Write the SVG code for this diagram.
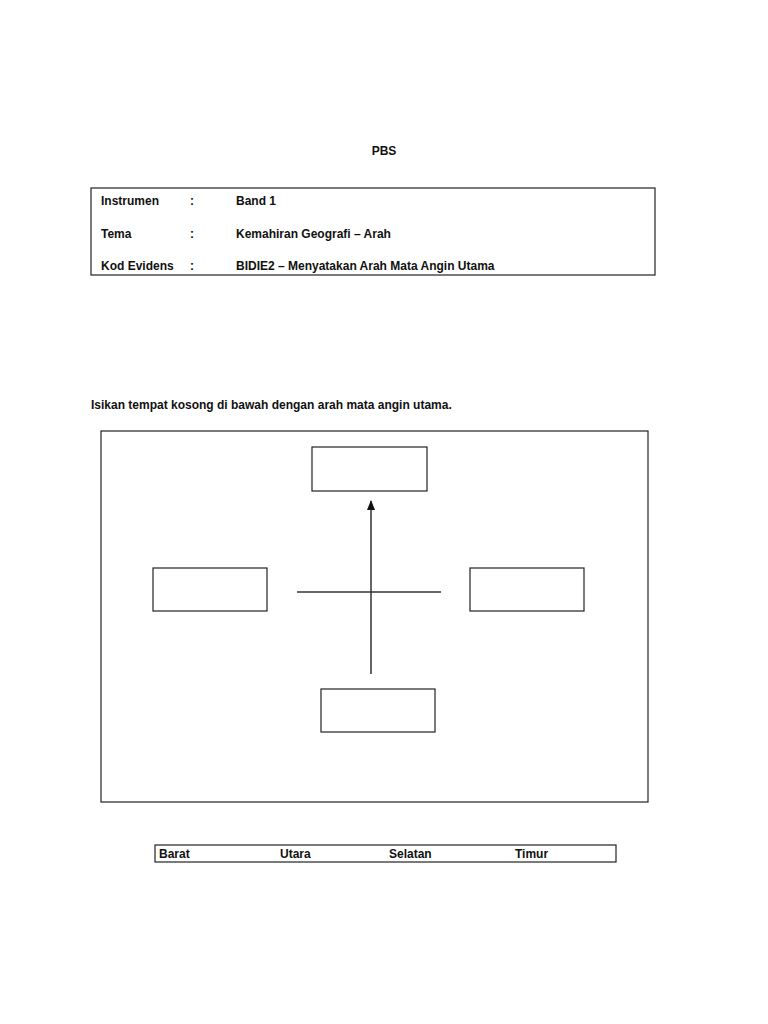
<svg xmlns="http://www.w3.org/2000/svg" width="768" height="1024" viewBox="0 0 768 1024">
<style>
text{font-family:"Liberation Sans",Arial,sans-serif;font-size:12px;font-weight:bold;fill:#111}
.box{fill:none;stroke:#222;stroke-width:1.2}
.ln{stroke:#333;stroke-width:1.5;fill:none}
</style>
<defs>
<marker id="ah" markerWidth="10" markerHeight="8" refX="9" refY="4" orient="auto" markerUnits="userSpaceOnUse" viewBox="0 0 10 8">
<path d="M0,0 L10,4 L0,8 Z" fill="#111"/>
</marker>
</defs>
<rect width="768" height="1024" fill="#fff"/>
<g id="title"><text x="384" y="155" text-anchor="middle">PBS</text></g>
<g id="header">
<rect class="box" x="91" y="188" width="564" height="87"/>
<text x="101" y="205">Instrumen</text><text x="190" y="205">:</text><text x="236" y="205">Band 1</text>
<text x="101" y="238">Tema</text><text x="190" y="238">:</text><text x="236" y="238">Kemahiran Geografi – Arah</text>
<text x="101" y="270">Kod Evidens</text><text x="190" y="270">:</text><text x="236" y="270">BIDIE2 – Menyatakan Arah Mata Angin Utama</text>
</g>
<g id="instruction"><text x="91" y="409" font-size="12.3">Isikan tempat kosong di bawah dengan arah mata angin utama.</text></g>
<g id="frame"><rect class="box" x="101" y="431" width="547" height="371"/></g>
<g id="box-top"><rect class="box" x="312" y="447" width="115" height="44"/></g>
<g id="box-left"><rect class="box" x="153" y="568" width="114" height="43"/></g>
<g id="box-right"><rect class="box" x="470" y="568" width="114" height="43"/></g>
<g id="box-bottom"><rect class="box" x="321" y="689" width="114" height="43"/></g>
<g id="connectors">
<line class="ln" x1="371" y1="674" x2="371" y2="501" marker-end="url(#ah)"/>
<line class="ln" x1="297" y1="592" x2="441" y2="592"/>
</g>
<g id="answers">
<rect class="box" x="155" y="845" width="461" height="17"/>
<text x="159" y="858">Barat</text>
<text x="280" y="858">Utara</text>
<text x="389" y="858">Selatan</text>
<text x="515" y="858">Timur</text>
</g>
</svg>
